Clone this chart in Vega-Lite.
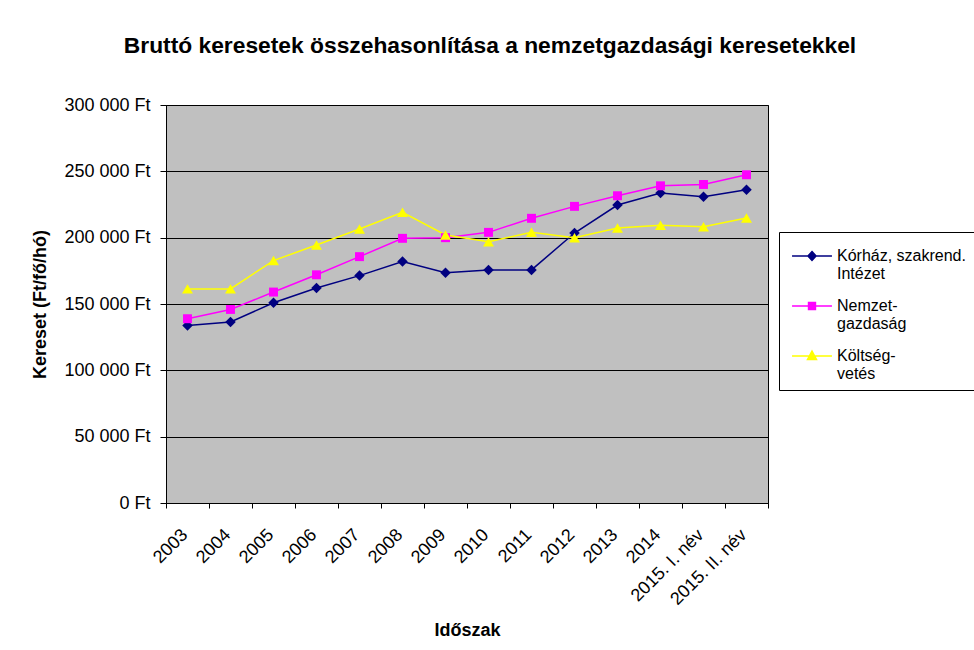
{
  "$schema": "https://vega.github.io/schema/vega-lite/v6.json",
  "autosize": "none",
  "padding": {"left": 166, "top": 105, "right": 206, "bottom": 147},
  "width": 602,
  "height": 398,
  "background": "white",
  "title": {"text": "Bruttó keresetek összehasonlítása a nemzetgazdasági keresetekkel", "fontSize": 22.8, "fontWeight": "bold", "anchor": "middle", "dx": 23, "offset": 38, "color": "black"},
  "data": {"values": [
    {"period": "2003", "series": "Kórház, szakrend. Intézet", "value": 133800},
    {"period": "2004", "series": "Kórház, szakrend. Intézet", "value": 136400},
    {"period": "2005", "series": "Kórház, szakrend. Intézet", "value": 150900},
    {"period": "2006", "series": "Kórház, szakrend. Intézet", "value": 162000},
    {"period": "2007", "series": "Kórház, szakrend. Intézet", "value": 171400},
    {"period": "2008", "series": "Kórház, szakrend. Intézet", "value": 182000},
    {"period": "2009", "series": "Kórház, szakrend. Intézet", "value": 173500},
    {"period": "2010", "series": "Kórház, szakrend. Intézet", "value": 175700},
    {"period": "2011", "series": "Kórház, szakrend. Intézet", "value": 175700},
    {"period": "2012", "series": "Kórház, szakrend. Intézet", "value": 203500},
    {"period": "2013", "series": "Kórház, szakrend. Intézet", "value": 224600},
    {"period": "2014", "series": "Kórház, szakrend. Intézet", "value": 233600},
    {"period": "2015. I. név", "series": "Kórház, szakrend. Intézet", "value": 230800},
    {"period": "2015. II. név", "series": "Kórház, szakrend. Intézet", "value": 236100},
    {"period": "2003", "series": "Nemzetgazdaság", "value": 138900},
    {"period": "2004", "series": "Nemzetgazdaság", "value": 145900},
    {"period": "2005", "series": "Nemzetgazdaság", "value": 159000},
    {"period": "2006", "series": "Nemzetgazdaság", "value": 172000},
    {"period": "2007", "series": "Nemzetgazdaság", "value": 185700},
    {"period": "2008", "series": "Nemzetgazdaság", "value": 199500},
    {"period": "2009", "series": "Nemzetgazdaság", "value": 200000},
    {"period": "2010", "series": "Nemzetgazdaság", "value": 204000},
    {"period": "2011", "series": "Nemzetgazdaság", "value": 214600},
    {"period": "2012", "series": "Nemzetgazdaság", "value": 223600},
    {"period": "2013", "series": "Nemzetgazdaság", "value": 231600},
    {"period": "2014", "series": "Nemzetgazdaság", "value": 239100},
    {"period": "2015. I. név", "series": "Nemzetgazdaság", "value": 240100},
    {"period": "2015. II. név", "series": "Nemzetgazdaság", "value": 247400},
    {"period": "2003", "series": "Költségvetés", "value": 161400},
    {"period": "2004", "series": "Költségvetés", "value": 161400},
    {"period": "2005", "series": "Költségvetés", "value": 182700},
    {"period": "2006", "series": "Költségvetés", "value": 194500},
    {"period": "2007", "series": "Költségvetés", "value": 206500},
    {"period": "2008", "series": "Költségvetés", "value": 219100},
    {"period": "2009", "series": "Költségvetés", "value": 202000},
    {"period": "2010", "series": "Költségvetés", "value": 197000},
    {"period": "2011", "series": "Költségvetés", "value": 204000},
    {"period": "2012", "series": "Költségvetés", "value": 200000},
    {"period": "2013", "series": "Költségvetés", "value": 207300},
    {"period": "2014", "series": "Költségvetés", "value": 209300},
    {"period": "2015. I. név", "series": "Költségvetés", "value": 208300},
    {"period": "2015. II. név", "series": "Költségvetés", "value": 214800}
  ]},
  "encoding": {
    "x": {
      "field": "period", "type": "nominal", "bandPosition": 0.5,
      "scale": {"type": "band", "paddingInner": 0, "paddingOuter": 0,
        "domain": ["2003", "2004", "2005", "2006", "2007", "2008", "2009", "2010", "2011", "2012", "2013", "2014", "2015. I. név", "2015. II. név"]},
      "axis": {"title": "Időszak", "titleFontSize": 18, "titleFontWeight": "bold", "titleX": 301, "titleY": 127, "titleBaseline": "middle",
        "labelAngle": -45, "labelAlign": "right", "labelBaseline": "middle", "labelPadding": 24, "labelOffset": -3, "labelFontSize": 18,
        "tickBand": "extent", "tickSize": 5, "tickColor": "black", "domainColor": "black", "grid": false}
    },
    "y": {
      "field": "value", "type": "quantitative",
      "scale": {"domain": [0, 300000], "nice": false},
      "axis": {"title": "Kereset (Ft/fő/hó)", "titleFontSize": 18, "titleFontWeight": "bold", "titleAngle": -90, "titleX": -126, "titleY": 199, "titleAlign": "center", "titleBaseline": "middle",
        "values": [0, 50000, 100000, 150000, 200000, 250000, 300000],
        "labelExpr": "replace(format(datum.value, ','), ',', ' ') + ' Ft'",
        "labelFontSize": 18, "labelPadding": 10, "tickSize": 6, "tickColor": "black", "domainColor": "black",
        "grid": true, "gridColor": "black", "gridOpacity": 1}
    },
    "color": {"field": "series", "type": "nominal",
      "scale": {"domain": ["Kórház, szakrend. Intézet", "Nemzetgazdaság", "Költségvetés"], "range": ["#000080", "#FF00FF", "#FFFF00"]},
      "legend": {
        "orient": "none", "legendX": 613, "legendY": 127, "title": null,
        "strokeColor": "black", "fillColor": "white", "padding": 8,
        "symbolSize": 900, "symbolStrokeWidth": 1.5,
        "labelFontSize": 16, "labelLineHeight": 17, "labelOffset": 18, "labelColor": "black", "rowPadding": 8,
        "labelExpr": "datum.label == 'Kórház, szakrend. Intézet' ? ['Kórház, szakrend.', 'Intézet'] : datum.label == 'Nemzetgazdaság' ? ['Nemzet-', 'gazdaság'] : ['Költség-', 'vetés']"
      }}
  },
  "layer": [
    {
      "transform": [{"filter": "false"}],
      "mark": {"type": "point", "filled": true, "opacity": 1},
      "encoding": {
        "shape": {"field": "series", "type": "nominal",
          "scale": {"domain": ["Kórház, szakrend. Intézet", "Nemzetgazdaság", "Költségvetés"],
            "range": ["M-0.73,0H1.93M0.6,-0.3L0.87,0L0.6,0.3L0.33,0Z", "M-0.73,0H1.93M0.37,-0.23H0.83V0.23H0.37Z", "M-0.73,0H1.93M0.6,-0.32L0.9,0.24H0.3Z"]}}
      }
    },
    {
      "mark": {"type": "line", "strokeWidth": 1.5}
    },
    {
      "transform": [{"filter": "datum.series == 'Kórház, szakrend. Intézet'"}],
      "mark": {"type": "point", "shape": "diamond", "filled": true, "size": 110, "opacity": 1}
    },
    {
      "transform": [{"filter": "datum.series == 'Nemzetgazdaság'"}],
      "mark": {"type": "point", "shape": "square", "filled": true, "size": 80, "opacity": 1}
    },
    {
      "transform": [{"filter": "datum.series == 'Költségvetés'"}],
      "mark": {"type": "point", "shape": "triangle-up", "filled": true, "size": 120, "opacity": 1}
    }
  ],
  "config": {
    "font": "Liberation Sans",
    "view": {"stroke": "black", "strokeWidth": 1, "fill": "#C0C0C0"},
    "axis": {"labelColor": "black", "titleColor": "black"}
  }
}
